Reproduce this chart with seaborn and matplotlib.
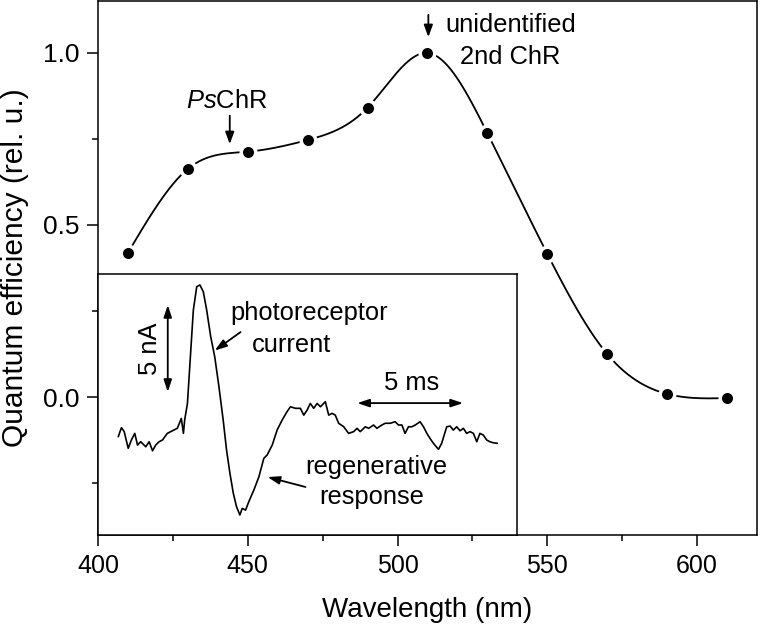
import numpy as np
import pandas as pd
import matplotlib
matplotlib.use("Agg")
import matplotlib.pyplot as plt
import seaborn as sns
from matplotlib.ticker import MultipleLocator

# ---- data ----
wavelength_nm = [410, 430, 450, 470, 490, 510, 530, 550, 570, 590, 610]
quantum_eff = [0.419, 0.663, 0.713, 0.747, 0.841, 1.000, 0.767, 0.416, 0.125, 0.009, -0.003]

trace_t_ms = [0.02, 0.17, 0.30, 0.49, 0.64, 0.80, 0.93, 1.08, 1.32, 1.48, 1.64, 1.79, 1.95, 2.11,
              2.34, 2.58, 2.81, 2.94, 3.00, 3.10, 3.16, 3.29, 3.44, 3.57, 3.73, 3.88, 4.04, 4.20,
              4.39, 4.58, 4.78, 4.98, 5.14, 5.30, 5.46, 5.61, 5.77, 5.88, 6.04, 6.19, 6.43, 6.67,
              6.90, 7.06, 7.30, 7.53, 7.77, 8.00, 8.16, 8.40, 8.63, 8.79, 8.95, 9.10, 9.26, 9.42,
              9.58, 9.81, 9.97, 10.13, 10.28, 10.44, 10.68, 10.91, 11.15, 11.31, 11.46, 11.70,
              11.86, 12.09, 12.25, 12.48, 12.64, 12.88, 13.11, 13.27, 13.43, 13.58, 13.74, 13.90,
              14.06, 14.29, 14.45, 14.61, 14.76, 14.92, 15.16, 15.31, 15.55, 15.71, 15.86, 16.02,
              16.18, 16.34, 16.49, 16.65, 16.81, 16.97, 17.12, 17.28, 17.44, 17.59, 17.75, 17.94]
trace_i_nA = [0.02, 0.54, 0.31, -0.65, -0.17, 0.21, -0.46, -0.27, -0.56, -0.27, -0.79, -0.46, -0.27,
              -0.17, 0.21, 0.36, 0.50, 0.88, 1.07, 0.21, 0.98, 1.93, 4.81, 7.30, 8.64, 8.74, 8.35,
              7.30, 5.77, 4.62, 2.89, 0.98, -0.75, -2.09, -3.24, -4.00, -4.48, -4.10, -4.20, -3.72,
              -3.05, -2.28, -1.23, -1.03, -0.46, 0.40, 0.98, 1.46, 1.74, 1.65, 1.65, 1.26, 1.55,
              1.93, 1.65, 1.93, 1.74, 2.03, 1.26, 1.36, 1.26, 0.79, 0.59, 0.21, 0.31, 0.50, 0.31,
              0.59, 0.50, 0.69, 0.50, 0.69, 0.79, 0.79, 0.88, 0.69, 0.69, 0.21, 0.59, 0.59, 0.69,
              0.88, 0.59, 0.21, -0.08, -0.36, -0.71, -0.36, 0.59, 0.63, 0.40, 0.59, 0.36, 0.50,
              0.21, 0.31, 0.21, -0.27, 0.21, 0.11, -0.17, -0.27, -0.33, -0.36]

xticks = [400, 450, 500, 550, 600]
yticks = [0.0, 0.5, 1.0]


def natural_spline(x, y, xs):
    x = np.asarray(x, float)
    y = np.asarray(y, float)
    n = len(x)
    h = np.diff(x)
    A = np.zeros((n, n))
    b = np.zeros(n)
    A[0, 0] = 1
    A[-1, -1] = 1
    for i in range(1, n - 1):
        A[i, i - 1] = h[i - 1]
        A[i, i] = 2 * (h[i - 1] + h[i])
        A[i, i + 1] = h[i]
        b[i] = 6 * ((y[i + 1] - y[i]) / h[i] - (y[i] - y[i - 1]) / h[i - 1])
    M = np.linalg.solve(A, b)
    idx = np.clip(np.searchsorted(x, xs) - 1, 0, n - 2)
    x0, x1 = x[idx], x[idx + 1]
    hh = x1 - x0
    a = (x1 - xs) / hh
    c = (xs - x0) / hh
    return (a * y[idx] + c * y[idx + 1]
            + ((a ** 3 - a) * M[idx] + (c ** 3 - c) * M[idx + 1]) * hh ** 2 / 6)


sns.set_theme(style="ticks")
plt.rcParams["font.family"] = ["Liberation Sans", "DejaVu Sans"]
plt.rcParams["mathtext.fontset"] = "custom"
plt.rcParams["mathtext.rm"] = "Liberation Sans"
plt.rcParams["mathtext.it"] = "Liberation Sans:italic"
plt.rcParams["axes.linewidth"] = 1.1
for key in ["text.color", "axes.labelcolor", "xtick.color", "ytick.color", "axes.edgecolor"]:
    plt.rcParams[key] = "black"

fig = plt.figure(figsize=(7.6, 6.28), dpi=100)
ax = fig.add_axes([0.1289, 0.1481, 0.8671, 0.8503])

xs = np.linspace(wavelength_nm[0], wavelength_nm[-1], 600)
curve = pd.DataFrame({"wl": xs, "qe": natural_spline(wavelength_nm, quantum_eff, xs)})
pts = pd.DataFrame({"wl": wavelength_nm, "qe": quantum_eff})

sns.lineplot(data=curve, x="wl", y="qe", ax=ax, color="black", lw=1.3, sort=False,
             estimator=None, zorder=2)
sns.scatterplot(data=pts, x="wl", y="qe", ax=ax, color="white", s=18 ** 2 * 0.52,
                linewidth=0, zorder=3)
sns.scatterplot(data=pts, x="wl", y="qe", ax=ax, color="black", s=11 ** 2 * 0.52,
                linewidth=0, zorder=4)

ax.set_xlim(400, 620)
ax.set_ylim(-0.401, 1.151)
ax.set_xticks(xticks)
ax.set_yticks(yticks)
ax.set_yticklabels([f"{v:.1f}" for v in yticks])
ax.xaxis.set_minor_locator(MultipleLocator(25))
ax.yaxis.set_minor_locator(MultipleLocator(0.25))
ax.tick_params(which="major", direction="out", length=8, width=1.1, pad=5.5,
               labelsize=19, color="black", labelcolor="black")
ax.tick_params(which="minor", direction="out", length=4.3, width=1.1, color="black")
narrow = ["Liberation Sans Narrow", "Liberation Sans", "DejaVu Sans"]
for lbl in ax.get_xticklabels():
    lbl.set_family(narrow)
    lbl.set_fontsize(18)
for s in ax.spines.values():
    s.set_visible(True)
    s.set_color("black")
ax.set_xlabel("Wavelength (nm)", fontsize=20, family=narrow, color="black", labelpad=14)
ax.set_ylabel("Quantum efficiency (rel. u.)", fontsize=21.5, color="black", labelpad=10)

# main annotations
ax.annotate("", xy=(444, 0.727), xytext=(444, 0.826),
            arrowprops=dict(arrowstyle="-|>,head_length=0.6,head_width=0.22", color="black", lw=1.3))
ax.text(443, 0.86, r"$\mathit{Ps}$ChR", ha="center", va="center", fontsize=18.4, color="black")
ax.annotate("", xy=(510.3, 1.038), xytext=(510.3, 1.119),
            arrowprops=dict(arrowstyle="-|>,head_length=0.6,head_width=0.22", color="black", lw=1.3))
ax.text(537.7, 1.081, "unidentified", ha="center", va="center", fontsize=18.4, color="black")
ax.text(537.7, 0.988, "2nd ChR", ha="center", va="center", fontsize=18.4, color="black")

# inset
axi = fig.add_axes([0.1289, 0.1481, 0.5513, 0.4156], zorder=5)
axi.set_facecolor("white")
trace = pd.DataFrame({"t": trace_t_ms, "i": trace_i_nA})
sns.lineplot(data=trace, x="t", y="i", ax=axi, color="black", lw=1.2, sort=False, estimator=None)
axi.set_xlim(-0.94, 18.87)
axi.set_ylim(-5.63, 9.37)
axi.set_xticks([])
axi.set_yticks([])
axi.set_xlabel("")
axi.set_ylabel("")
for s in axi.spines.values():
    s.set_visible(True)
    s.set_color("black")
    s.set_linewidth(1.1)

bar = dict(arrowstyle="<|-|>,head_length=0.6,head_width=0.2", color="black", lw=1.3,
           shrinkA=0, shrinkB=0)
axi.annotate("", xy=(2.36, 7.59), xytext=(2.36, 2.59), arrowprops=bar)
axi.text(1.5, 5.1, "5 nA", rotation=90, ha="center", va="center", fontsize=18.4, color="black")
axi.annotate("", xy=(11.32, 1.95), xytext=(16.32, 1.95), arrowprops=bar)
axi.text(13.9, 3.1, "5 ms", ha="center", va="center", fontsize=18.4, color="black")

one = dict(arrowstyle="-|>,head_length=0.6,head_width=0.2", color="black", lw=1.3,
           shrinkA=0, shrinkB=0)
axi.annotate("", xy=(4.58, 4.97), xytext=(5.80, 6.03), arrowprops=one)
axi.text(5.3, 7.15, "photoreceptor", ha="left", va="center", fontsize=18.4, color="black")
axi.text(6.35, 5.3, "current", ha="left", va="center", fontsize=18.4, color="black")
axi.annotate("", xy=(7.08, -2.3), xytext=(8.87, -2.87), arrowprops=one)
axi.text(12.2, -1.74, "regenerative", ha="center", va="center", fontsize=18.4, color="black")
axi.text(11.98, -3.45, "response", ha="center", va="center", fontsize=18.4, color="black")

fig.savefig("out.png", dpi=100)
